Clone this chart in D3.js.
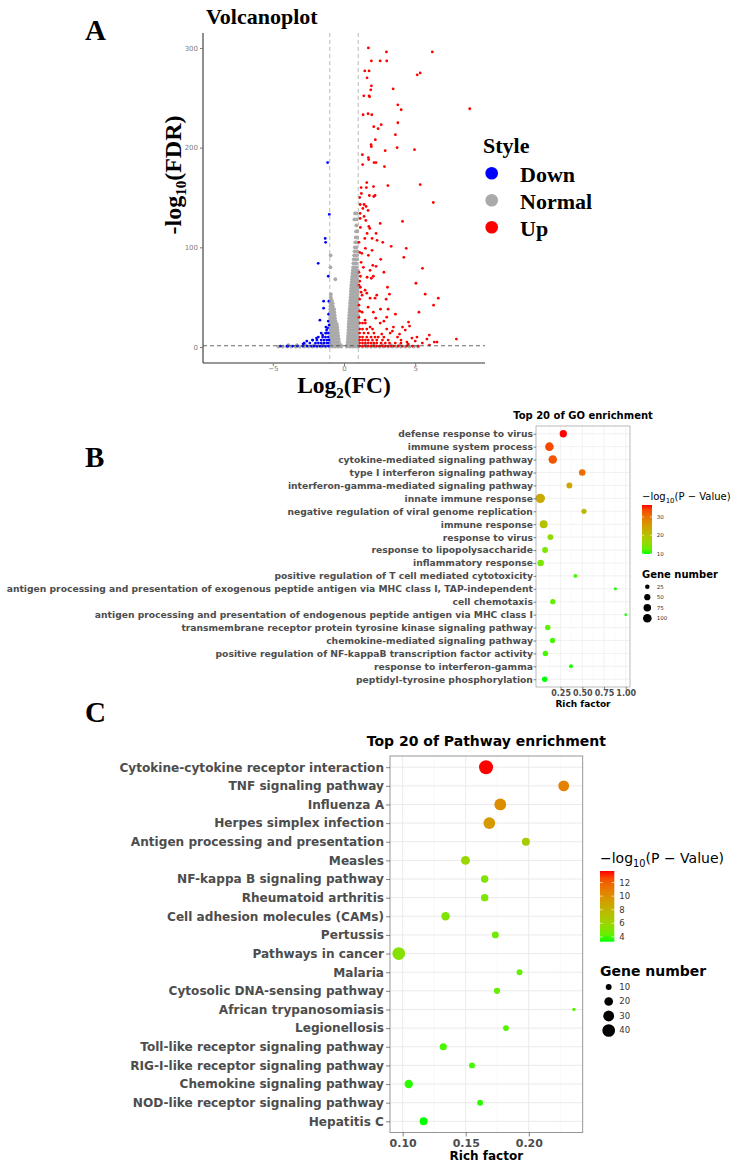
<!DOCTYPE html>
<html><head><meta charset="utf-8">
<script src="https://cdn.jsdelivr.net/npm/d3@7"></script>
<style>body{margin:0;background:#fff}</style>
</head><body>
<svg id="fig" width="739" height="1170"></svg>
<script>
// ---------------- DATA ----------------
// Panel A: volcano points [log2FC, -log10 FDR]
const volcanoUp = [[1.71,300],[2.98,296],[6.2,296],[1.92,287],[2.54,287],[3.0,287],[1.46,277],[1.76,277],[5.35,275],[5.14,273],[1.62,270],[1.92,262],[1.88,258],[3.45,259],[1.39,252],[1.76,252],[1.8,251],[3.78,243],[4.01,238],[8.83,239],[1.34,233],[1.69,234],[1.95,233],[2.61,223],[2.09,221],[2.39,219],[3.78,225],[3.61,213],[2.2,208],[1.9,203],[1.92,201],[3.73,200],[4.95,198],[2.89,197],[1.29,193],[1.71,190],[1.73,188],[2.11,185],[2.25,185],[1.31,183],[2.84,181],[1.6,165],[2.07,161],[1.57,160],[3.08,162],[5.35,163],[1.2,160],
[1.22,154],[1.78,152],[2.18,152],[2.09,151],[6.27,145],[1.13,143],[1.41,143],[1.55,141],[1.69,137],[1.32,139],[1.13,134],[1.41,131],[1.53,127],[1.74,121],[1.13,129],[4.11,126],[2.54,124],[1.81,119],[1.62,114],[2.25,114],[1.97,109],[1.46,109],[2.72,105],[3.31,101],[2.32,107],[4.37,99],[1.5,99],[1.97,97],[1.25,94],[1.71,92],[4.2,90],[2.58,88],[2.02,82],[2.25,81],[1.36,80],[1.83,77],[5.51,79],[2.8,75],[1.15,71],[1.62,70],[1.92,69],[2.06,71],[5.05,64],[3.05,60],[1.15,60],[1.48,57],[1.27,52],[1.6,54],[1.83,49],[5.7,53],[6.62,49],[3.19,53],[2.96,48],[2.3,52],[2.18,49],[6.29,42],[3.1,38],[2.56,38],[1.69,40],[1.27,35],[2.06,35],[5.26,35],[3.61,33],[3.0,30],[2.23,29],[1.48,27],[4.53,25],[4.11,20],[3.47,20],[2.54,24],[1.83,20],[5.99,12],[5.82,8],[6.34,5],[6.53,5],[7.89,8],[5.12,10],[4.77,9],[4.42,5],[3.76,10],[3.24,14],[2.65,13],[2.18,10],
[1.1,1],[1.3,1],[1.5,1],[1.7,1],[1.9,1],[2.1,1],[2.3,1],[2.5,1],[2.7,1],[2.9,1],[3.1,1],[3.3,1],[3.5,1],[3.8,1],[4.1,1],[4.4,1],[4.8,1],[5.2,1],
[1.1,4],[1.3,4],[1.5,4],[1.7,4],[1.9,4],[2.1,4],[2.3,4],[2.6,4],[2.9,4],[3.2,4],[3.6,4],[4.0,4],
[1.1,7],[1.3,7],[1.5,7],[1.7,7],[2.0,7],[2.3,7],[2.7,7],[3.1,7],
[1.1,10],[1.3,10],[1.6,10],[1.9,10],[2.4,10],[2.8,10],
[1.1,14],[1.4,14],[1.7,14],[2.1,14],[1.1,18],[1.3,18],[1.6,18],[2.0,18],[1.1,24],[1.3,24],[1.5,24],
[1.05,30],[1.1,36],[1.05,42],[1.1,48],[1.2,55],[1.05,62],[1.1,66],[1.05,75],[1.2,85],[1.1,95],[1.05,105],[1.15,120],[1.1,150],
[3.4,16],[3.9,13],[4.3,17],[4.6,21],[3.0,18],[2.8,26],[4.0,7],[4.5,3],[5.0,6],[5.5,4],[6.0,2]];

const volcanoDown = [[-1.15,185],[-1.03,133],[-1.32,109],[-1.29,105],[-1.81,84],[-1.1,71],[-1.43,46],[-1.06,46],[-1.43,39],[-1.08,33],[-1.69,27],[-1.27,20],[-1.15,19],[-1.22,17],
[-4.46,1],[-3.93,1],[-3.27,1],[-2.87,3],[-2.61,6],[-2.21,7],[-1.93,9],[-1.5,12],[-1.22,14],
[-4.0,1],[-3.6,1],[-2.9,1],[-2.6,1],[-2.3,1],[-2.1,1],[-1.9,1],[-1.7,1],[-1.5,1],[-1.3,1],[-1.1,1],
[-2.8,4],[-2.4,4],[-2.0,4],[-1.8,4],[-1.6,4],[-1.4,4],[-1.2,4],[-1.05,4],
[-2.2,7],[-1.9,7],[-1.6,7],[-1.4,7],[-1.2,7],[-1.05,7],
[-1.8,10],[-1.5,10],[-1.3,10],[-1.1,10],[-1.6,14],[-1.3,14],[-1.1,14],[-1.05,22],[-1.1,26]];

// Normal genes, listed as rows: [-log10 FDR, [log2FC values]]
const volcanoNormalRows = [
[0.5,[-4.6,-4.3,-4.0,-3.7,-3.4,-3.1,-2.8,-2.5,-2.2,-1.9,-1.6,-1.3,-1.0,-0.8,-0.6,-0.4,-0.2,0.2,0.4,0.6,0.8,1.0,1.3,1.6,1.9,2.2,2.5,2.8,3.1,3.4,3.7,4.0,4.3,4.6,4.9,5.2]],
[2,[-3.9,-3.3,-2.7,-2.1,-1.5,-0.95,-0.8,-0.65,-0.5,-0.35,-0.22,0.22,0.35,0.48,0.6,0.72,0.85,0.97,1.5,2.1,2.7,3.3,3.9,4.5]],
[5,[-0.95,-0.8,-0.65,-0.5,-0.35,0.25,0.38,0.5,0.62,0.75,0.88,0.98]],
[8,[-0.95,-0.8,-0.65,-0.5,-0.37,0.27,0.4,0.52,0.64,0.76,0.88,0.98]],
[11,[-0.95,-0.82,-0.68,-0.54,-0.4,0.28,0.42,0.55,0.68,0.8,0.92]],
[14,[-0.95,-0.82,-0.68,-0.55,-0.43,0.3,0.44,0.57,0.7,0.83,0.95]],
[17,[-0.95,-0.82,-0.69,-0.56,-0.45,0.31,0.45,0.58,0.71,0.84,0.96]],
[20,[-0.96,-0.83,-0.7,-0.58,-0.47,0.32,0.46,0.59,0.72,0.85,0.97]],
[23,[-0.96,-0.84,-0.72,-0.6,-0.5,0.33,0.47,0.6,0.73,0.86,0.97]],
[26,[-0.96,-0.84,-0.72,-0.6,0.35,0.48,0.61,0.74,0.87,0.97]],
[29,[-0.96,-0.85,-0.74,-0.63,0.36,0.5,0.63,0.76,0.88,0.98]],
[32,[-0.96,-0.85,-0.75,-0.66,0.37,0.51,0.64,0.77,0.89,0.98]],
[35,[-0.96,-0.86,-0.76,-0.68,0.39,0.52,0.65,0.78,0.9]],
[38,[-0.96,-0.87,-0.78,-0.7,0.4,0.53,0.66,0.79,0.91,0.98]],
[41,[-0.95,-0.87,-0.79,0.42,0.55,0.68,0.8,0.92]],
[44,[-0.95,-0.87,-0.8,0.43,0.56,0.69,0.81,0.93]],
[47,[-0.94,-0.86,0.45,0.58,0.7,0.82,0.94]],
[50,[-0.93,0.46,0.59,0.71,0.83,0.95]],
[53,[-0.92,0.48,0.6,0.72,0.84,0.95]],
[56,[0.49,0.62,0.74,0.86,0.96]],
[59,[0.5,0.63,0.75,0.87,0.97]],
[62,[0.52,0.64,0.76,0.88,0.97]],
[65,[0.54,0.66,0.78,0.89]],
[68,[-0.61,0.56,0.68,0.8,0.91]],
[71,[0.58,0.7,0.81,0.92]],
[74,[0.6,0.72,0.83,0.94]],
[77,[0.62,0.74,0.85,0.95]],
[80,[-0.95,0.64,0.76,0.87]],
[84,[0.66,0.78,0.89]],
[88,[0.68,0.8,0.9]],
[92,[-0.94,0.71,0.82,0.92]],
[96,[0.74,0.85,0.94]],
[100,[0.76,0.87]],
[105,[0.79,0.9]],
[110,[0.82,0.92]],
[116,[0.85,0.93]],
[122,[0.87]],
[128,[0.73,0.89]],
[134,[0.77,0.89]]];

const styleLabels = ["Down","Normal","Up"];
const styleColors = ["#0000ff","#aaaaaa","#ff0000"];
const volcanoXTicks = [-5,0,5];
const volcanoYTicks = [0,100,200,300];
const fcCut = [-1,1];
const fdrCut = 0.05;

// Panel B: GO enrichment
const goTerms = ["defense response to virus","immune system process","cytokine-mediated signaling pathway","type I interferon signaling pathway","interferon-gamma-mediated signaling pathway","innate immune response","negative regulation of viral genome replication","immune response","response to virus","response to lipopolysaccharide","inflammatory response","positive regulation of T cell mediated cytotoxicity","antigen processing and presentation of exogenous peptide antigen via MHC class I, TAP-independent","cell chemotaxis","antigen processing and presentation of endogenous peptide antigen via MHC class I","transmembrane receptor protein tyrosine kinase signaling pathway","chemokine-mediated signaling pathway","positive regulation of NF-kappaB transcription factor activity","response to interferon-gamma","peptidyl-tyrosine phosphorylation"];
const goRich = [0.281,0.121,0.160,0.499,0.351,0.016,0.519,0.055,0.133,0.071,0.020,0.420,0.881,0.160,1.000,0.102,0.157,0.075,0.370,0.067];
const goGenes = [70,100,98,55,45,120,35,85,45,44,55,18,10,35,7,38,35,38,18,38];
const goLogP = [36.5,34,33,31,24,23.5,21,20,16,14,14,11,10,12,10,12,11,11,10,9.8];
const goXTicks = [0.25,0.50,0.75,1.00];
const goXMinor = [0.125,0.375,0.625,0.875];
const goColorTicks = [10,20,30];
const goSizeTicks = [25,50,75,100];

// Panel C: KEGG pathway enrichment
const keggTerms = ["Cytokine-cytokine receptor interaction","TNF signaling pathway","Influenza A","Herpes simplex infection","Antigen processing and presentation","Measles","NF-kappa B signaling pathway","Rheumatoid arthritis","Cell adhesion molecules (CAMs)","Pertussis","Pathways in cancer","Malaria","Cytosolic DNA-sensing pathway","African trypanosomiasis","Legionellosis","Toll-like receptor signaling pathway","RIG-I-like receptor signaling pathway","Chemokine signaling pathway","NOD-like receptor signaling pathway","Hepatitis C"];
const keggRich = [0.1661,0.2277,0.1774,0.1687,0.1977,0.1498,0.1650,0.1650,0.1340,0.1735,0.0969,0.1927,0.1748,0.2358,0.1819,0.1322,0.1550,0.1048,0.1614,0.1166];
const keggGenes = [48,30,35,35,17,21,15,15,19,13,40,10,11,4,10,14,10,19,10,17];
const keggLogP = [13.7,10.6,10.1,9.5,6.5,6,5,5,5,4.6,5.2,4.3,4.3,4,4,3.8,3.8,3.5,3.5,3.3];
const keggXTicks = [0.10,0.15,0.20];
const keggXMinor = [0.125,0.175,0.225];
const keggColorTicks = [4,6,8,10,12];
const keggSizeTicks = [10,20,30,40];

// ---------------- DRAWING ----------------
const SERIF = "'Liberation Serif','Times New Roman',serif";
const SANS = "'DejaVu Sans','Noto Sans',sans-serif";
const svg = d3.select("#fig");
svg.append("rect").attr("width",739).attr("height",1170).attr("fill","#fff");
const defs = svg.append("defs");

// panel letters
[["A",40],["B",467],["C",722]].forEach(([t,y])=>{
  svg.append("text").attr("x",85).attr("y",y).text(t)
    .attr("font-family",SERIF).attr("font-weight","bold").attr("font-size",29).attr("fill","#000");
});

// ===== Panel A =====
(function(){
  const L=203,R=485,T=33,B=363;
  const x = d3.scaleLinear().domain([-9.9,9.9]).range([L,R]);
  const y = d3.scaleLinear().domain([-16,315]).range([B,T]);
  const g = svg.append("g");
  g.append("text").attr("x",206).attr("y",24).text("Volcanoplot")
    .attr("font-family",SERIF).attr("font-weight","bold").attr("font-size",22);

  const normal = volcanoNormalRows.flatMap(([fdr,xs])=>xs.map(v=>[v,fdr]));
  const groups = [[normal,styleColors[1],1.9],[volcanoDown,styleColors[0],1.4],[volcanoUp,styleColors[2],1.4]];
  groups.forEach(([pts,col,r])=>{
    g.append("g").selectAll("circle").data(pts).join("circle")
      .attr("cx",d=>x(d[0])).attr("cy",d=>y(d[1])).attr("r",r).attr("fill",col);
  });
  fcCut.forEach(v=>{
    g.append("line").attr("x1",x(v)).attr("x2",x(v)).attr("y1",T).attr("y2",B)
      .attr("stroke","#a8a8a8").attr("stroke-width",0.8).attr("stroke-dasharray","4,3");
  });
  g.append("line").attr("x1",L).attr("x2",R).attr("y1",y(-Math.log10(fdrCut))).attr("y2",y(-Math.log10(fdrCut)))
    .attr("stroke","#444").attr("stroke-width",0.8).attr("stroke-dasharray","4,3");

  const ax = g.append("g").attr("transform",`translate(0,${B})`)
    .call(d3.axisBottom(x).tickValues(volcanoXTicks).tickSize(3).tickPadding(0).tickSizeOuter(0).tickFormat(d3.format("d")));
  const ay = g.append("g").attr("transform",`translate(${L},0)`)
    .call(d3.axisLeft(y).tickValues(volcanoYTicks).tickSize(3).tickPadding(2).tickSizeOuter(0));
  [ax,ay].forEach(a=>{
    a.select(".domain").attr("stroke","#333").attr("stroke-width",1.1);
    a.selectAll(".tick line").attr("stroke","#777");
    a.selectAll(".tick text").attr("font-family",SANS).attr("font-size",7).attr("fill","#808080");
  });
  ay.select(".domain").attr("d",`M0,${T}V${B}`);
  ax.select(".domain").attr("d",`M${L},0H${R}`);

  const xt = g.append("text").attr("x",344).attr("y",393).attr("text-anchor","middle")
    .attr("font-family",SERIF).attr("font-weight","bold").attr("font-size",23.5);
  xt.append("tspan").text("Log");
  xt.append("tspan").text("2").attr("font-size",15).attr("dy",5);
  xt.append("tspan").text("(FC)").attr("dy",-5);

  const yt = g.append("text").attr("transform","translate(181,175) rotate(-90)").attr("text-anchor","middle")
    .attr("font-family",SERIF).attr("font-weight","bold").attr("font-size",24);
  yt.append("tspan").text("-log");
  yt.append("tspan").text("10").attr("font-size",15).attr("dy",5);
  yt.append("tspan").text("(FDR)").attr("dy",-5);

  // legend
  g.append("text").attr("x",483).attr("y",153).text("Style")
    .attr("font-family",SERIF).attr("font-weight","bold").attr("font-size",22);
  styleLabels.forEach((s,i)=>{
    const cy = 173.3 + i*27;
    g.append("circle").attr("cx",491.7).attr("cy",cy).attr("r",6.3).attr("fill",styleColors[i]);
    g.append("text").attr("x",520).attr("y",cy+8.4).text(s)
      .attr("font-family",SERIF).attr("font-weight","bold").attr("font-size",22);
  });
})();

// ===== Enrichment panels =====
function expand(arr){const e=d3.extent(arr);const p=(e[1]-e[0])*0.05;return [e[0]-p,e[1]+p];}

function enrichPanel(c){
  const g = svg.append("g");
  const x = d3.scaleLinear().domain(expand(c.rich)).range([c.box.l,c.box.r]);
  const y = d3.scalePoint().domain(c.terms).range([c.box.t,c.box.b]).padding(0.6);
  const col = d3.scaleLinear().domain(d3.extent(c.logp)).range(["#00ff00","#ff0000"]).interpolate(d3.interpolateLab);
  const size = d3.scaleSqrt().domain(d3.extent(c.genes)).range(c.rRange);
  const {l,r,t,b} = c.box;

  g.append("rect").attr("x",l).attr("y",t).attr("width",r-l).attr("height",b-t).attr("fill","#fff");
  c.minor.forEach(v=>g.append("line").attr("x1",x(v)).attr("x2",x(v)).attr("y1",t).attr("y2",b)
    .attr("stroke","#f2f2f2").attr("stroke-width",c.gridW*0.6));
  c.ticks.forEach(v=>g.append("line").attr("x1",x(v)).attr("x2",x(v)).attr("y1",t).attr("y2",b)
    .attr("stroke","#e8e8e8").attr("stroke-width",c.gridW));
  c.terms.forEach(term=>g.append("line").attr("x1",l).attr("x2",r).attr("y1",y(term)).attr("y2",y(term))
    .attr("stroke","#e8e8e8").attr("stroke-width",c.gridW));

  g.append("g").selectAll("circle").data(c.terms.map((term,i)=>({term,rich:c.rich[i],n:c.genes[i],p:c.logp[i]})))
    .join("circle").attr("cx",d=>x(d.rich)).attr("cy",d=>y(d.term)).attr("r",d=>size(d.n)).attr("fill",d=>col(d.p));

  g.append("rect").attr("x",l).attr("y",t).attr("width",r-l).attr("height",b-t)
    .attr("fill","none").attr("stroke","#8c8c8c").attr("stroke-width",c.gridW);

  const ay = g.append("g").attr("transform",`translate(${l},0)`)
    .call(d3.axisLeft(y).tickSize(c.tick).tickPadding(c.pad));
  const ax = g.append("g").attr("transform",`translate(0,${b})`)
    .call(d3.axisBottom(x).tickValues(c.ticks).tickSize(c.tick).tickPadding(c.xpad).tickFormat(d3.format(".2f")));
  [ax,ay].forEach(a=>{
    a.select(".domain").remove();
    a.selectAll(".tick line").attr("stroke","#333").attr("stroke-width",0.6);
    a.selectAll(".tick text").attr("font-family",SANS).attr("font-weight","bold").attr("fill","#4d4d4d");
  });
  ay.selectAll(".tick text").attr("font-size",c.yFont);
  ax.selectAll(".tick text").attr("font-size",c.xFont);

  const cx = (l+r)/2;
  g.append("text").attr("x",cx).attr("y",c.titleY).attr("text-anchor","middle").text(c.title)
    .attr("font-family",SANS).attr("font-weight","bold").attr("font-size",c.titleFont).attr("fill","#000");
  g.append("text").attr("x",cx).attr("y",c.xlabY).attr("text-anchor","middle").text("Rich factor")
    .attr("font-family",SANS).attr("font-weight","bold").attr("font-size",c.xlabFont).attr("fill","#000");

  // colour legend
  const lg = c.leg;
  const lt = g.append("text").attr("x",lg.x).attr("y",lg.titleY)
    .attr("font-family",SANS).attr("font-size",lg.font).attr("fill","#000");
  lt.append("tspan").text("\u2212log");
  lt.append("tspan").text("10").attr("font-size",lg.font*0.7).attr("dy",lg.font*0.25);
  lt.append("tspan").text("(P \u2212 Value)").attr("dy",-lg.font*0.25);

  const gid = "grad"+c.id;
  const gr = defs.append("linearGradient").attr("id",gid).attr("x1",0).attr("x2",0).attr("y1",1).attr("y2",0);
  const dom = col.domain();
  d3.range(0,1.0001,0.1).forEach(f=>gr.append("stop").attr("offset",f).attr("stop-color",col(dom[0]+f*(dom[1]-dom[0]))));
  g.append("rect").attr("x",lg.x).attr("y",lg.barT).attr("width",lg.barW).attr("height",lg.barB-lg.barT).attr("fill",`url(#${gid})`);
  const cb = d3.scaleLinear().domain(dom).range([lg.barB,lg.barT]);
  c.colorTicks.forEach(v=>{
    const yy = cb(v);
    g.append("line").attr("x1",lg.x).attr("x2",lg.x+lg.barW*0.2).attr("y1",yy).attr("y2",yy).attr("stroke","#fff").attr("stroke-width",0.6);
    g.append("line").attr("x1",lg.x+lg.barW*0.8).attr("x2",lg.x+lg.barW).attr("y1",yy).attr("y2",yy).attr("stroke","#fff").attr("stroke-width",0.6);
    g.append("text").attr("x",lg.labX).attr("y",yy).attr("dy","0.35em").text(v)
      .attr("font-family",SANS).attr("font-size",lg.labFont).attr("fill","#333");
  });
  // size legend
  g.append("text").attr("x",lg.x).attr("y",lg.sizeTitleY).text("Gene number")
    .attr("font-family",SANS).attr("font-weight","bold").attr("font-size",lg.font).attr("fill","#000");
  c.sizeTicks.forEach((v,i)=>{
    const yy = lg.sizeY0 + i*lg.sizeStep;
    g.append("circle").attr("cx",lg.sizeX).attr("cy",yy).attr("r",size(v)).attr("fill","#000");
    g.append("text").attr("x",lg.labX).attr("y",yy).attr("dy","0.35em").text(v)
      .attr("font-family",SANS).attr("font-size",lg.labFont).attr("fill","#333");
  });
}

enrichPanel({id:"B",terms:goTerms,rich:goRich,genes:goGenes,logp:goLogP,ticks:goXTicks,minor:goXMinor,
  colorTicks:goColorTicks,sizeTicks:goSizeTicks,rRange:[1.3,4.7],
  box:{l:536,r:630,t:426,b:687},gridW:0.6,tick:2.5,pad:0.6,xpad:1,yFont:9.2,xFont:8,
  title:"Top 20 of GO enrichment",titleY:419,titleFont:10,xlabY:707,xlabFont:9,
  leg:{x:642,titleY:500,font:10,barT:505,barB:554,barW:10,labX:656.7,labFont:5.5,
       sizeTitleY:577.7,sizeX:647.3,sizeY0:586.7,sizeStep:10.5}});

enrichPanel({id:"C",terms:keggTerms,rich:keggRich,genes:keggGenes,logp:keggLogP,ticks:keggXTicks,minor:keggXMinor,
  colorTicks:keggColorTicks,sizeTicks:keggSizeTicks,rRange:[1.7,7],
  box:{l:390,r:582.7,t:756,b:1132.5},gridW:0.9,tick:4,pad:2,xpad:2.4,yFont:12.1,xFont:11,
  title:"Top 20 of Pathway enrichment",titleY:746,titleFont:14,xlabY:1160,xlabFont:12,
  leg:{x:600,titleY:863.3,font:14,barT:871,barB:941.7,barW:14.3,labX:619.3,labFont:8.5,
       sizeTitleY:976,sizeX:608.7,sizeY0:987,sizeStep:14.5}});
</script>
</body></html>
